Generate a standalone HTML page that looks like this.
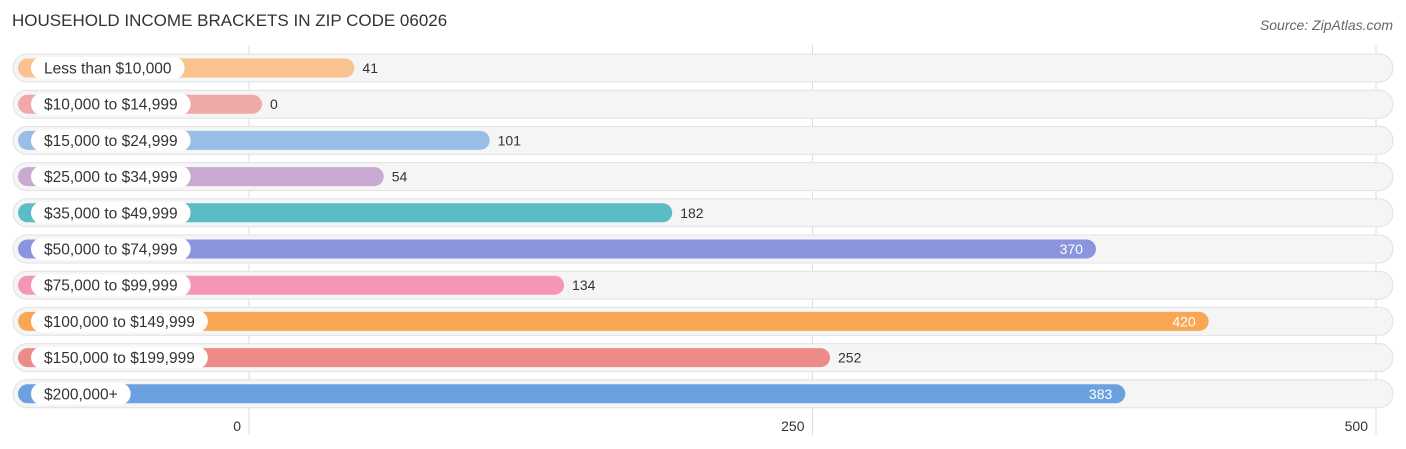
<!DOCTYPE html>
<html><head><meta charset="utf-8"><style>
body{margin:0;background:#fff;font-family:"Liberation Sans",sans-serif;}
#wrap{position:relative;width:1406px;height:449px;overflow:hidden;}
</style></head><body>
<div id="wrap">
<svg id="svg" width="1406" height="449">
<text x="12" y="26" font-size="17" fill="#333">HOUSEHOLD INCOME BRACKETS IN ZIP CODE 06026</text>
<text x="1393" y="30" font-size="14" fill="#666" font-style="italic" text-anchor="end">Source: ZipAtlas.com</text>
<g id="grid"></g><g id="rows"></g><g id="ticks"></g>
</svg>
</div>
<script>
const categories=["Less than $10,000","$10,000 to $14,999","$15,000 to $24,999","$25,000 to $34,999","$35,000 to $49,999","$50,000 to $74,999","$75,000 to $99,999","$100,000 to $149,999","$150,000 to $199,999","$200,000+"];
const values=[41,0,101,54,182,370,134,420,252,383];
const colors=["#f9c28f","#f0a9a9","#98bde6","#c9a9d2","#5bbcc6","#8a95dd","#f596b5","#f9a655","#ec8b87","#6ba1de"];
const tickValues=[0,250,500];
const tickLabels=["0","250","500"];
const NS="http://www.w3.org/2000/svg";
const x0=249,x1=1376,vmax=500;
function xs(v){return x0+(x1-x0)*v/vmax;}
function yc(i){return 68+i*36.2;}
function mk(tag,attrs,parent){const e=document.createElementNS(NS,tag);for(const k in attrs)e.setAttribute(k,attrs[k]);parent.appendChild(e);return e;}
const grid=document.getElementById('grid'),rows=document.getElementById('rows'),ticks=document.getElementById('ticks');
tickValues.forEach((t,i)=>{
 const l=mk('line',{x1:xs(t),x2:xs(t),y1:45,y2:435,stroke:'#ddd','stroke-width':1},grid);
 
 
 const tx=mk('text',{x:xs(t)-8,y:431,'font-size':14,fill:'#333','text-anchor':'end'},ticks);
 tx.textContent=tickLabels[i];
 
 
});
categories.forEach((c,i)=>{
 const y=yc(i);
 const bg=mk('rect',{x:13,y:y-14,width:1380,height:28,rx:14,fill:'#f5f5f5',stroke:'#e2e2e2'},rows);
 
 
 const end=xs(values[i])+13;
 const b=mk('rect',{x:18,y:y-9.5,width:end-18,height:19,rx:9.5,fill:colors[i]},rows);
 
 
 const p=mk('rect',{x:31,y:y-11,width:100,height:22,rx:11,fill:'#fff'},rows);
 
 
 const lt=mk('text',{x:44,y:y+5.5,'font-size':15.5,fill:'#333'},rows);
 lt.textContent=c;
 
 
 p.setAttribute('width',lt.getComputedTextLength()+26);
 const inside=values[i]>300;
 const vt=mk('text',{x:inside?end-13:end+8,y:y+5,'font-size':14,fill:inside?'#fff':'#333','text-anchor':inside?'end':'start'},rows);
 vt.textContent=values[i];
 
 
});
</script>
</body></html>
